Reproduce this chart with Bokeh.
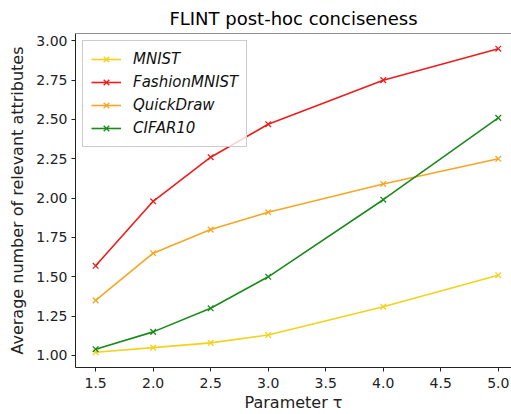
from bokeh.plotting import figure
from bokeh.models import Range1d, FixedTicker, Legend, LegendItem, Span, CustomJSTickFormatter
from bokeh.embed import file_html
from bokeh.resources import INLINE

tau = [1.5, 2.0, 2.5, 3.0, 4.0, 5.0]
mnist = [1.02, 1.05, 1.08, 1.13, 1.31, 1.51]
fashion = [1.57, 1.98, 2.26, 2.47, 2.75, 2.95]
quickdraw = [1.35, 1.65, 1.80, 1.91, 2.09, 2.25]
cifar = [1.04, 1.15, 1.30, 1.50, 1.99, 2.51]
names = ["MNIST", "FashionMNIST", "QuickDraw", "CIFAR10"]
colors = ["#f2d21b", "#ee1c1c", "#f5a623", "#1a8a1a"]
x_ticks = [1.5, 2.0, 2.5, 3.0, 3.5, 4.0, 4.5, 5.0]
y_ticks = [1.00, 1.25, 1.50, 1.75, 2.00, 2.25, 2.50, 2.75, 3.00]

FONT = "DejaVu Sans"

p = figure(width=511, height=414, output_backend="svg", toolbar_location=None,
           x_range=Range1d(1.325, 5.115), y_range=Range1d(0.9235, 3.0465),
           min_border_right=0, min_border_top=0, min_border_left=75, min_border_bottom=0)
p.title.text = "FLINT post-hoc conciseness"
p.title.align = "center"
p.title.text_font = FONT
p.title.text_font_style = "normal"
p.title.text_font_size = "18px"
p.title.text_color = "#000000"
p.title.standoff = 10

p.xgrid.visible = False
p.ygrid.visible = False
p.outline_line_color = None
p.background_fill_color = "white"
p.border_fill_color = "white"

for ax in (p.xaxis[0], p.yaxis[0]):
    ax.major_label_text_font = FONT
    ax.major_label_text_font_size = "14px"
    ax.major_label_text_color = "#222222"
    ax.axis_label_text_font = FONT
    ax.axis_label_text_font_size = "16px"
    ax.axis_label_text_font_style = "normal"
    ax.axis_label_text_color = "#222222"
    ax.minor_tick_line_color = None
    ax.major_tick_in = 0
    ax.major_tick_out = 4
    ax.axis_line_color = "#222222"
    ax.major_tick_line_color = "#222222"

p.xaxis.ticker = FixedTicker(ticks=x_ticks)
p.yaxis.ticker = FixedTicker(ticks=y_ticks)
p.xaxis.axis_label = "Parameter τ"
p.yaxis.axis_label = "Average number of relevant attributes"
p.yaxis.formatter = CustomJSTickFormatter(code="return tick.toFixed(2);")
p.xaxis.formatter = CustomJSTickFormatter(code="return tick.toFixed(1);")
p.xaxis.axis_label_standoff = 2
p.yaxis.axis_label_standoff = 6
p.xaxis.major_label_standoff = 6
p.yaxis.major_label_standoff = 4

p.add_layout(Span(location=3.0465, dimension="width", line_color="#222222", line_width=1))

items = []
for name, ys, c in zip(names, [mnist, fashion, quickdraw, cifar], colors):
    r1 = p.line(tau, ys, line_color=c, line_width=1.6)
    r2 = p.scatter(tau, ys, marker="x", size=8, line_color=c, line_width=1.3)
    items.append(LegendItem(label=name, renderers=[r1, r2]))

legend = Legend(items=items, location="top_left")
legend.label_text_font = FONT
legend.label_text_font_style = "italic"
legend.label_text_font_size = "15px"
legend.label_text_color = "#111111"
legend.glyph_width = 30
legend.label_standoff = 12
legend.spacing = 3
legend.padding = 8
legend.margin = 7
legend.border_line_color = "#cccccc"
legend.border_line_alpha = 1
legend.background_fill_alpha = 0.8
p.add_layout(legend)

open("out.html", "w").write(file_html(p, INLINE))
